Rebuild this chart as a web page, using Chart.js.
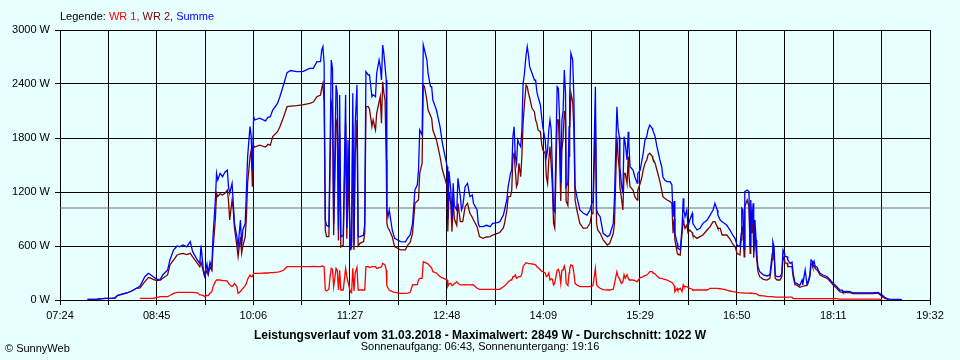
<!DOCTYPE html>
<html>
<head>
<meta charset="utf-8">
<script src="https://cdn.jsdelivr.net/npm/chart.js@4/dist/chart.umd.min.js"></script>
<style>
html,body{margin:0;padding:0;background:#E8FFFF;}
canvas{display:block;}
</style>
</head>
<body>
<canvas id="c" width="960" height="360"></canvas>
<script>
// ---- data ----
const xTickLabels = ["07:24","08:45","10:06","11:27","12:48","14:09","15:29","16:50","18:11","19:32"];
const yTickValues = [0, 600, 1200, 1800, 2400, 3000];
const average = 1022;
const maximum = 2849;
const dateText = "31.03.2018";
const sunrise = "06:43";
const sunset = "19:16";

const times = [
"07:47","07:55","08:02","08:08","08:10","08:12","08:16","08:20","08:24","08:28",
"08:31","08:35","08:38","08:39","08:42","08:45","08:48","08:50","08:54","08:56",
"08:59","09:02","09:04","09:07","09:10","09:13","09:15","09:19","09:21","09:22",
"09:24","09:25","09:27","09:28","09:29:30","09:31","09:32","09:34","09:35","09:36",
"09:38","09:40","09:42","09:44","09:45","09:46","09:48","09:49","09:50","09:52",
"09:53","09:55","09:56","09:57","09:59","10:00","10:01","10:03","10:04","10:05",
"10:06","10:07","10:11","10:16","10:18","10:20","10:22","10:26","10:28","10:31",
"10:34","10:37","10:42","10:47","10:53","10:56","10:59","11:02","11:03","11:04",
"11:05","11:06","11:07","11:09","11:10","11:11","11:12","11:13","11:15","11:16",
"11:17","11:18","11:19","11:21","11:23","11:24","11:25","11:27","11:28","11:29",
"11:30","11:31","11:32:30","11:33:30","11:35","11:38","11:39","11:40","11:42","11:43",
"11:45","11:46","11:48","11:49","11:51","11:52","11:53","11:54","11:55","11:56",
"11:57","11:57:30","11:58:30","11:59:30","12:02","12:04","12:09","12:13","12:15","12:17",
"12:19","12:21","12:23","12:24","12:25","12:27","12:28","12:29","12:31","12:32",
"12:34","12:35","12:36","12:39","12:42","12:44","12:48","12:48:30","12:49:30","12:51",
"12:52","12:53","12:54","12:56","12:57","12:59","13:00","13:01","13:03","13:05",
"13:07","13:09","13:10","13:13","13:14","13:15","13:18","13:21","13:24","13:26",
"13:30","13:32","13:35","13:36","13:38","13:39","13:41","13:42","13:43","13:44",
"13:45","13:46","13:47","13:48","13:49:30","13:50:30","13:51:30","13:52:30","13:54","13:55",
"13:56","13:57","13:58","13:59","14:01","14:02","14:03","14:04","14:06","14:07",
"14:08","14:10","14:11","14:12","14:13","14:14","14:15","14:16","14:17","14:18",
"14:20","14:21","14:22","14:23","14:24","14:25","14:26","14:27","14:27:30","14:29",
"14:30","14:30:30","14:31:30","14:33","14:34","14:35","14:36:30","14:39","14:42","14:45",
"14:47:30","14:49","14:50","14:52","14:53","14:54","14:56","14:57:30","14:58:30","15:02",
"15:04","15:07","15:08","15:10","15:11","15:12","15:12:30","15:14","15:15","15:16",
"15:17","15:18:30","15:19:30","15:20","15:21","15:23:30","15:25","15:27","15:27:30","15:29:30",
"15:31","15:32","15:33:30","15:35","15:36","15:37:30","15:39:30","15:40","15:42","15:43:30",
"15:46","15:47:30","15:48:30","15:50","15:52","15:54:30","15:56","15:57","15:58","15:58:30",
"16:00:30","16:01","16:03","16:04:30","16:05:30","16:06","16:07","16:08:30","16:09:30","16:11",
"16:13","16:13:30","16:17","16:19:30","16:22","16:25:30","16:28","16:30:30","16:32","16:34",
"16:34:30","16:36:30","16:38","16:39","16:42","16:44:30","16:47","16:49","16:50:30","16:53",
"16:54","16:54:30","16:55:30","16:56:30","16:57","16:59","17:00:30","17:01:30","17:02","17:03",
"17:04","17:04:30","17:05:30","17:06:30","17:07","17:08","17:09:30","17:12:30","17:15:30","17:18",
"17:20","17:20:30","17:21:30","17:22:30","17:24","17:26:30","17:28","17:29","17:30","17:30:30",
"17:32:30","17:33","17:35","17:36:30","17:37:30","17:39","17:40:30","17:43","17:45","17:45:30",
"17:47:30","17:49","17:50","17:51:30","17:52:30","17:53:30","17:54","17:55","17:56","17:57:30",
"17:58:30","18:00","18:02:30","18:06","18:08:30","18:11","18:14","18:16:30","18:18:30","18:19",
"18:22:30","18:25","18:27:30","18:33:30","18:39:30","18:44","18:48:30","18:52","18:54","18:57","18:58:30","19:07","19:08:30"
];

const wr1 = [
null,null,null,null,null,null,null,null,null,null,
19,19,19,19,19,30,37,37,37,50,
74,85,85,85,85,85,85,80,56,56,
50,37,50,50,75,90,148,204,222,222,
222,215,215,210,185,170,148,160,185,150,
74,95,111,130,160,185,230,278,260,260,
296,296,296,300,300,305,305,310,315,330,
370,370,370,370,370,372,370,370,375,375,
370,111,100,120,260,352,340,150,352,330,
111,330,111,111,352,260,200,90,80,352,
100,300,363,111,111,111,111,370,370,360,
370,370,370,350,360,360,370,407,400,390,
330,160,130,110,93,85,74,74,76,85,
167,170,170,222,240,240,426,420,407,400,
370,355,315,300,259,245,222,150,180,185,
160,167,180,204,185,167,167,167,170,167,
167,170,167,130,125,118,118,118,118,118,
118,118,148,155,185,200,222,222,259,259,
278,241,250,260,259,296,370,390,415,410,
405,405,405,400,395,390,370,360,333,320,
315,300,259,270,300,222,235,230,167,185,
333,341,300,185,333,333,378,320,185,160,
300,350,389,380,300,185,167,148,148,148,
150,155,160,352,170,150,130,120,115,111,
111,120,185,315,260,240,222,185,200,280,
240,280,240,230,222,222,215,204,204,250,
255,259,270,278,290,315,315,305,290,265,
241,240,235,230,222,204,195,180,160,93,
130,110,130,93,167,150,150,148,140,130,
120,111,111,111,111,111,130,130,130,130,
130,125,120,120,111,100,93,90,85,81,
80,80,80,78,78,76,76,75,75,75,
74,72,70,70,68,56,50,45,40,37,
37,37,35,33,33,33,33,33,33,33,
33,33,33,33,15,15,15,15,15,15,
15,15,15,15,15,15,15,15,15,15,
15,15,15,15,15,15,15,10,10,10,
10,10,10,10,10,10,10,5,null,null,null,null,null
];

const wr2 = [
8,10,18,20,22,50,65,78,100,130,
135,204,248,248,230,215,222,241,278,389,
444,500,511,518,505,518,480,407,370,420,
315,260,330,280,370,330,560,900,1185,1150,
1180,1167,1185,1222,1100,889,1111,1000,800,600,
481,700,520,600,700,926,1300,1593,1667,1259,
1715,1700,1720,1700,1730,1720,1815,1870,1926,2030,
2148,2155,2160,2167,2185,2200,2259,2278,2352,2407,
2200,778,704,704,1500,2204,2150,720,2000,1950,
660,1850,590,610,1950,680,1400,560,570,1950,
556,1600,2000,600,630,650,740,2148,2148,2120,
1926,2000,1889,2074,2200,2259,1963,2426,2300,2222,
1556,852,800,780,704,593,556,556,611,640,
740,1074,1100,1111,1407,1519,2389,2370,2222,2111,
2050,2019,1889,1778,1593,1444,1259,760,1200,1074,
760,1111,900,830,1074,870,870,870,1037,1074,
963,920,889,815,760,704,685,700,704,722,
741,750,800,852,1000,1148,1150,1220,1593,1630,
1440,1259,1300,1519,1370,1600,1963,2150,2389,2370,
2296,2250,2185,2130,2090,2000,1963,1889,1870,1741,
1667,1630,1370,1296,1556,1704,1500,1259,852,800,
2000,2000,1700,1100,1667,1800,2100,2000,1100,1050,
1600,1889,2300,2200,1900,1111,1000,850,796,800,
852,963,960,2000,852,778,741,700,667,611,
630,741,852,1815,1593,1450,1259,1111,1000,1407,
1407,1296,1593,1400,1259,1222,1148,1110,1222,1296,
1370,1444,1519,1556,1611,1630,1600,1574,1519,1444,
1315,1222,1148,1130,1111,1093,1074,741,900,670,
519,510,500,741,889,850,796,833,750,778,
750,722,685,704,722,778,815,870,870,815,
796,796,722,722,722,680,620,590,519,500,
667,800,815,480,1037,1111,1037,519,960,741,
900,470,778,550,450,315,259,230,222,241,
450,560,520,241,222,222,260,481,450,410,
410,370,370,370,259,167,167,141,150,150,
160,160,185,259,400,400,370,380,350,333,
315,278,260,241,204,167,130,93,85,81,
81,81,72,72,72,72,78,37,20,7,null,null,null
];

const summe = [
8,10,18,20,22,50,65,78,100,130,
155,259,296,289,259,230,233,278,333,444,
555,600,592,611,590,648,537,444,407,604,
333,278,400,300,420,350,700,1111,1407,1333,
1407,1370,1420,1444,1259,1185,1296,1074,852,704,
593,889,600,778,852,1222,1593,1926,1815,1444,
2037,2000,2020,1990,2030,2037,2111,2185,2259,2389,
2526,2550,2537,2537,2574,2574,2648,2648,2778,2815,
2630,889,830,815,1700,2667,2574,850,2389,2300,
778,2278,700,720,2278,800,1778,592,650,2296,
611,1950,2389,700,704,720,850,2537,2500,2500,
2259,2280,2259,2520,2667,2593,2444,2833,2740,2593,
2444,1000,926,1000,778,685,648,645,690,722,
852,1222,1280,1444,1889,1833,2833,2778,2667,2519,
2370,2370,2222,2111,1926,1741,1481,900,1430,1222,
900,1296,1050,1000,1352,1148,1000,1037,1259,1296,
1148,1167,1074,1000,852,815,815,830,815,852,
860,870,944,1000,1120,1259,1407,1444,1815,1926,
1593,1519,1778,1741,1704,1889,2407,2500,2722,2815,
2722,2593,2556,2519,2444,2444,2315,2259,2167,2037,
1926,1778,1593,1667,1889,2000,1889,1444,1000,980,
2370,2352,2037,1300,2000,2100,2556,2300,1259,1300,
1926,2259,2741,2667,2259,1259,1148,1000,963,944,
1000,1074,1100,2370,1000,963,926,815,741,704,
722,852,1148,2148,1900,1815,1481,1259,1185,1815,
1741,1556,1870,1741,1481,1444,1370,1300,1407,1444,
1556,1630,1778,1815,1889,1944,1907,1889,1815,1704,
1556,1481,1370,1333,1315,1315,1280,926,1100,741,
630,574,556,800,1130,1000,926,1000,815,889,
963,852,778,796,852,889,944,1000,1074,1000,
944,889,870,860,830,780,720,680,610,593,
741,1019,1000,560,1204,1222,1204,593,1111,852,
1074,540,889,667,519,370,315,280,267,278,
519,648,593,275,259,259,296,556,519,481,
481,444,407,420,296,190,185,160,222,167,
333,180,205,280,444,430,395,430,370,365,
333,296,278,259,222,185,148,111,110,93,
95,93,80,80,80,80,85,56,30,11,7,7,5
];

// ---- helpers ----
const toMin = s => { const p = s.split(':').map(Number); return p[0] * 60 + p[1] + (p[2] || 0) / 60; };
const xs = times.map(toMin);
const pts = arr => arr.map((v, i) => ({ x: xs[i], y: v }));
const xMin = toMin(xTickLabels[0]);
const xMax = toMin(xTickLabels[xTickLabels.length - 1]);
const DIVS = (xTickLabels.length - 1) * 2;

const FONT = "'Liberation Sans', Arial, sans-serif";
const BG = '#E8FFFF';

const legendParts = [["Legende: ", "#000000"], ["WR 1, ", "#FF0000"], ["WR 2, ", "#800000"], ["Summe", "#0000FF"]];
const titleText = "Leistungsverlauf vom " + dateText + " - Maximalwert: " + maximum + " W - Durchschnitt: " + average + " W";
const subtitleText = "Sonnenaufgang: " + sunrise + ", Sonnenuntergang: " + sunset;

const textPlugin = {
  id: 'texts',
  beforeDraw(chart) {
    const c = chart.ctx; c.save();
    c.fillStyle = BG; c.fillRect(0, 0, chart.width, chart.height);
    c.restore();
  },
  afterDraw(chart) {
    const c = chart.ctx; c.save();
    c.textBaseline = 'middle';
    c.font = '11px ' + FONT; c.textAlign = 'left';
    let x = chart.chartArea.left;
    for (const [t, col] of legendParts) { c.fillStyle = col; c.fillText(t, x, 16.5); x += c.measureText(t).width; }
    c.fillStyle = '#000';
    c.textAlign = 'center';
    c.font = 'bold 12px ' + FONT;
    c.fillText(titleText, 480, 335.5);
    c.font = '11px ' + FONT;
    c.fillText(subtitleText, 480, 347);
    c.textAlign = 'left';
    c.fillText('\u00A9 SunnyWeb', 5, 348.5);
    c.restore();
  }
};

new Chart(document.getElementById('c'), {
  type: 'line',
  data: {
    datasets: [
      { label: 'Summe', data: pts(summe), borderColor: '#0000FF', order: 0 },
      { label: 'WR 2', data: pts(wr2), borderColor: '#800000', order: 1 },
      { label: 'WR 1', data: pts(wr1), borderColor: '#FF0000', order: 2 },
      { label: 'Durchschnitt', data: [{ x: xMin, y: average }, { x: xMax, y: average }], borderColor: '#707070', borderWidth: 1, order: 3 }
    ]
  },
  options: {
    responsive: false,
    animation: false,
    devicePixelRatio: 1,
    layout: { padding: { left: 0, right: 30, top: 30, bottom: 0 } },
    elements: { line: { borderWidth: 1.3, tension: 0 }, point: { radius: 0 } },
    plugins: { legend: { display: false }, tooltip: { enabled: false }, title: { display: false } },
    scales: {
      x: {
        type: 'linear', min: xMin, max: xMax,
        afterBuildTicks: s => {
          const step = (xMax - xMin) / DIVS;
          s.ticks = Array.from({ length: DIVS + 1 }, (_, k) => ({ value: xMin + k * step }));
        },
        ticks: {
          autoSkip: false, maxRotation: 0, minRotation: 0, color: '#000', padding: 4,
          font: { family: FONT, size: 11 },
          callback: (v, i) => (i % 2 === 0 ? xTickLabels[i / 2] : '')
        },
        grid: { color: '#000', lineWidth: 1, drawTicks: true, tickLength: 5, tickColor: '#000' },
        border: { color: '#000', width: 1 },
        afterFit: s => { s.height = 60; }
      },
      y: {
        min: 0, max: 3000,
        afterBuildTicks: s => { s.ticks = yTickValues.map(v => ({ value: v })); },
        ticks: { color: '#000', padding: 5, font: { family: FONT, size: 11 }, callback: v => v + ' W' },
        grid: { color: '#000', lineWidth: 1, drawTicks: true, tickLength: 5, tickColor: '#000' },
        border: { color: '#000', width: 1 },
        afterFit: s => { s.width = 60; }
      }
    }
  },
  plugins: [textPlugin]
});
</script>
</body>
</html>
